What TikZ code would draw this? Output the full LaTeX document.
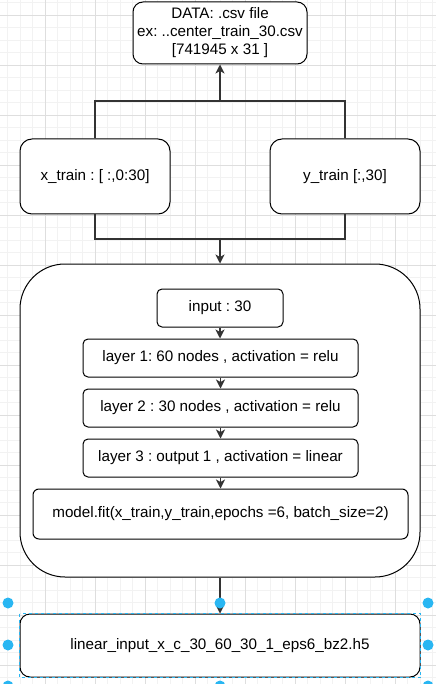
\documentclass[tikz,border=0pt]{standalone}
\usepackage{fontspec}
\setmainfont{Liberation Sans}
\usetikzlibrary{arrows.meta}
\definecolor{selblue}{HTML}{29B6F2}
\definecolor{gridminor}{HTML}{F2F2F2}
\definecolor{gridmajor}{HTML}{DEDEDE}
\tikzset{
	box/.style = {draw, line width = 1pt, rounded corners = #1, inner sep = 0pt, align = center, fill = white,
		font = \fontsize{15.2}{18}\selectfont\frenchspacing},
	box/.default = 6pt,
	link/.style = {draw = black!80, line width = 1.3pt},
	pfeil/.style = {link, -{Stealth[length = 9pt, width = 9pt, inset = 2.5pt]}}
}
\begin{document}
\begin{tikzpicture}[x = 1pt, y = -1pt]
		\useasboundingbox (0, 0) rectangle (436, 684);
		% Raster
		\foreach \x in {0, ..., 34} {
			\draw [gridminor, line width = 0.7pt] (7.5 + 12.5 * \x, 0) -- (7.5 + 12.5 * \x, 684);
		}
		\foreach \y in {0, ..., 54} {
			\draw [gridminor, line width = 0.7pt] (0, 2.5 + 12.5 * \y) -- (436, 2.5 + 12.5 * \y);
		}
		\foreach \x in {45, 95, ..., 395} {
			\draw [gridmajor, line width = 0.7pt] (\x, 0) -- (\x, 684);
		}
		\foreach \y in {15, 65, ..., 665} {
			\draw [gridmajor, line width = 0.7pt] (0, \y) -- (436, \y);
		}
		% Daten
		\node [box = 10pt, minimum width = 174pt, minimum height = 62pt] (data) at (220, 33)
			{DATA: .csv file\\ex: ..center\_train\_30.csv\\{[741945 x 31 ]}};
		\node [box = 12pt, minimum width = 150pt, minimum height = 75pt] (xtrain) at (95, 176.5) {x\_train : [ :,0:30]};
		\node [box = 12pt, minimum width = 150pt, minimum height = 75pt] (ytrain) at (345, 176.5) {y\_train [:,30]};
		% Modell
		\node [box = 45pt, minimum width = 400pt, minimum height = 313pt] (model) at (220, 420.5) {};
		\node [box = 5pt, minimum width = 126pt, minimum height = 38pt] (input) at (220, 308) {input : 30};
		\node [box = 5pt, minimum width = 275pt, minimum height = 38pt] (layer1) at (220.5, 358) {layer 1: 60 nodes , activation = relu};
		\node [box = 5pt, minimum width = 275pt, minimum height = 38pt] (layer2) at (220.5, 408) {layer 2 : 30 nodes , activation = relu};
		\node [box = 5pt, minimum width = 275pt, minimum height = 38pt] (layer3) at (220.5, 458) {layer 3 : output 1 , activation = linear};
		\node [box = 6pt, minimum width = 375pt, minimum height = 50pt] (fit) at (220.5, 514) {model.fit(x\_train,y\_train,epochs =6, batch\_size=2)};
		% Ausgabe
		\node [box = 10pt, minimum width = 400pt, minimum height = 63pt] (output) at (220, 645.5) {linear\_input\_x\_c\_30\_60\_30\_1\_eps6\_bz2.h5};
		% Linien
		\coordinate (topjoin) at (220, 101);
		\coordinate (botjoin) at (220, 239);
		\draw [link] (xtrain.north) |- (topjoin);
		\draw [link] (ytrain.north) |- (topjoin);
		\draw [pfeil] (topjoin) -- (data.south);
		\draw [link] (xtrain.south) |- (botjoin);
		\draw [link] (ytrain.south) |- (botjoin);
		\draw [pfeil] (botjoin) -- (model.north);
		\draw [pfeil] (input) -- (input |- layer1.north);
		\draw [pfeil] (layer1) -- (layer1 |- layer2.north);
		\draw [pfeil] (layer2) -- (layer2 |- layer3.north);
		\draw [pfeil] (layer3) -- (layer3 |- fit.north);
		\draw [pfeil] (model.south) -- (output.north);
		% Auswahl
		\draw [selblue, line width = 1pt, dash pattern = on 3pt off 3pt] (output.north west) rectangle (output.south east);
		\foreach \px/\py in {8/603, 220/603, 428/603, 8/645, 428/645, 8/686, 220/686, 428/686} {
			\fill [selblue] (\px, \py) circle (5.5pt);
		}
	\end{tikzpicture}
\end{document}
